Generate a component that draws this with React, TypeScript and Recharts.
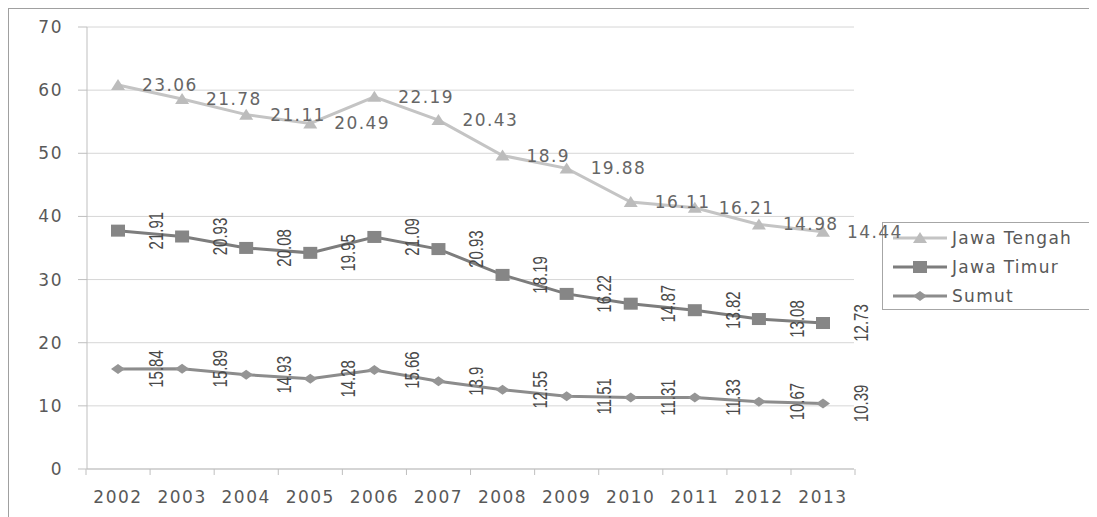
import { ComposedChart, Area, XAxis, YAxis, CartesianGrid, LabelList } from "recharts";

const YEARS = ["2002", "2003", "2004", "2005", "2006", "2007", "2008", "2009", "2010", "2011", "2012", "2013"];
const SUMUT = [15.84, 15.89, 14.93, 14.28, 15.66, 13.9, 12.55, 11.51, 11.31, 11.33, 10.67, 10.39];
const JAWA_TIMUR = [21.91, 20.93, 20.08, 19.95, 21.09, 20.93, 18.19, 16.22, 14.87, 13.82, 13.08, 12.73];
const JAWA_TENGAH = [23.06, 21.78, 21.11, 20.49, 22.19, 20.43, 18.9, 19.88, 16.11, 16.21, 14.98, 14.44];
const Y_TICKS = [0, 10, 20, 30, 40, 50, 60, 70];

const data = YEARS.map((year, i) => ({
  year,
  sumut: SUMUT[i],
  timur: JAWA_TIMUR[i],
  tengah: JAWA_TENGAH[i],
}));

const TEXT = "#595959";
const FONT = "'DejaVu Sans', sans-serif";
const HALF_STEP = 32;

const SERIES = {
  tengah: { name: "Jawa Tengah", line: "#c4c4c4", marker: "#bcbcbc" },
  timur: { name: "Jawa Timur", line: "#7d7d7d", marker: "#868686" },
  sumut: { name: "Sumut", line: "#8c8c8c", marker: "#959595" },
};

function marker(kind: string, cx: number, cy: number, fill: string, key?: string) {
  if (kind === "triangle") {
    return <polygon key={key} points={`${cx - 7},${cy + 5} ${cx + 7},${cy + 5} ${cx},${cy - 6}`} fill={fill} />;
  }
  if (kind === "square") {
    return <rect key={key} x={cx - 7} y={cy - 6} width={14} height={12} fill={fill} />;
  }
  return <polygon key={key} points={`${cx - 7},${cy} ${cx},${cy - 5} ${cx + 7},${cy} ${cx},${cy + 5}`} fill={fill} />;
}

function dotFor(kind: string, fill: string) {
  return (props: any) => {
    const { cx, cy, index } = props;
    if (cx == null || cy == null) return <g key={`e-${kind}-${index}`} />;
    return marker(kind, cx, cy, fill, `d-${kind}-${index}`);
  };
}

function labelFor(values: number[], vertical: boolean) {
  return (props: any) => {
    const vb = props.viewBox || {};
    const x = vb.x ?? props.x;
    const y = vb.y ?? props.y;
    const i = props.index;
    const text = i != null ? String(values[i]) : String(props.value);
    if (x == null || y == null) return null;
    if (vertical) {
      const lx = x + 38;
      return (
        <text
          transform={`translate(${lx},${y}) rotate(-90) scale(1,1.3)`}
          textAnchor="middle"
          dominantBaseline="central"
          fontFamily="'Liberation Sans', sans-serif"
          fontSize={15}
          fill="#4a4a4a"
        >
          {text}
        </text>
      );
    }
    return (
      <text
        x={x + 24}
        y={y}
        dominantBaseline="central"
        fontFamily={FONT}
        fontSize={17}
        letterSpacing={1.4}
        fill="#666666"
      >
        {text}
      </text>
    );
  };
}

function YearTick(props: any) {
  const { x, y, payload, index } = props;
  return (
    <g>
      <line x1={x - HALF_STEP} y1={y} x2={x - HALF_STEP} y2={y + 6} stroke="#bfbfbf" />
      {index === YEARS.length - 1 && (
        <line x1={x + HALF_STEP} y1={y} x2={x + HALF_STEP} y2={y + 6} stroke="#bfbfbf" />
      )}
      <text
        x={x}
        y={y + 28}
        textAnchor="middle"
        dominantBaseline="central"
        fontFamily={FONT}
        fontSize={17}
        letterSpacing={1.5}
        fill={TEXT}
      >
        {payload.value}
      </text>
    </g>
  );
}

function LegendBox() {
  const rows = [
    { ...SERIES.tengah, kind: "triangle" },
    { ...SERIES.timur, kind: "square" },
    { ...SERIES.sumut, kind: "diamond" },
  ];
  return (
    <div
      style={{
        position: "absolute",
        left: 873,
        top: 213,
        width: 210,
        height: 88,
        boxSizing: "border-box",
        border: "1px solid #a6a6a6",
        zIndex: 0,
      }}
    >
      {rows.map((r) => (
        <div key={r.name} style={{ height: 29.3, display: "flex", alignItems: "center" }}>
          <svg width={66} height={16} style={{ display: "block" }}>
            <line x1={10} y1={8} x2={64} y2={8} stroke={r.line} strokeWidth={3} />
            {marker(r.kind, 37, 8, r.marker)}
          </svg>
          <span
            style={{
              marginLeft: 3,
              fontFamily: FONT,
              fontSize: 17,
              letterSpacing: 1.3,
              color: TEXT,
              lineHeight: "20px",
            }}
          >
            {r.name}
          </span>
        </div>
      ))}
    </div>
  );
}

export default function App() {
  return (
    <div
      style={{
        position: "relative",
        width: 1089,
        height: 509,
        boxSizing: "border-box",
        borderTop: "1px solid #a0a0a0",
        borderLeft: "1px solid #a0a0a0",
        background: "white",
        fontFamily: FONT,
      }}
    >
      <LegendBox />
      <div style={{ position: "relative", zIndex: 1 }}>
        <ComposedChart
          width={1088}
          height={508}
          data={data}
          margin={{ top: 18, right: 243, bottom: 8, left: 0 }}
        >
          <CartesianGrid vertical={false} stroke="#d6d6d6" />
          <XAxis
            dataKey="year"
            padding={{ left: 31, right: 31 }}
            height={40}
            stroke="#bfbfbf"
            tickLine={false}
            tickSize={0}
            tickMargin={0}
            interval={0}
            tick={<YearTick />}
          />
          <YAxis
            width={78}
            domain={[0, 70]}
            ticks={Y_TICKS}
            interval={0}
            stroke="#bfbfbf"
            tickSize={9}
            tickMargin={15}
            tick={{ fill: TEXT, fontSize: 17, fontFamily: FONT, letterSpacing: 1.5 }}
          />
          <Area
            type="linear"
            dataKey="sumut"
            name={SERIES.sumut.name}
            stackId="a"
            stroke={SERIES.sumut.line}
            strokeWidth={3}
            fill="none"
            dot={dotFor("diamond", SERIES.sumut.marker)}
            activeDot={false}
            isAnimationActive={false}
          >
            <LabelList content={labelFor(SUMUT, true)} />
          </Area>
          <Area
            type="linear"
            dataKey="timur"
            name={SERIES.timur.name}
            stackId="a"
            stroke={SERIES.timur.line}
            strokeWidth={3}
            fill="none"
            dot={dotFor("square", SERIES.timur.marker)}
            activeDot={false}
            isAnimationActive={false}
          >
            <LabelList content={labelFor(JAWA_TIMUR, true)} />
          </Area>
          <Area
            type="linear"
            dataKey="tengah"
            name={SERIES.tengah.name}
            stackId="a"
            stroke={SERIES.tengah.line}
            strokeWidth={3}
            fill="none"
            dot={dotFor("triangle", SERIES.tengah.marker)}
            activeDot={false}
            isAnimationActive={false}
          >
            <LabelList content={labelFor(JAWA_TENGAH, false)} />
          </Area>
        </ComposedChart>
      </div>
    </div>
  );
}
